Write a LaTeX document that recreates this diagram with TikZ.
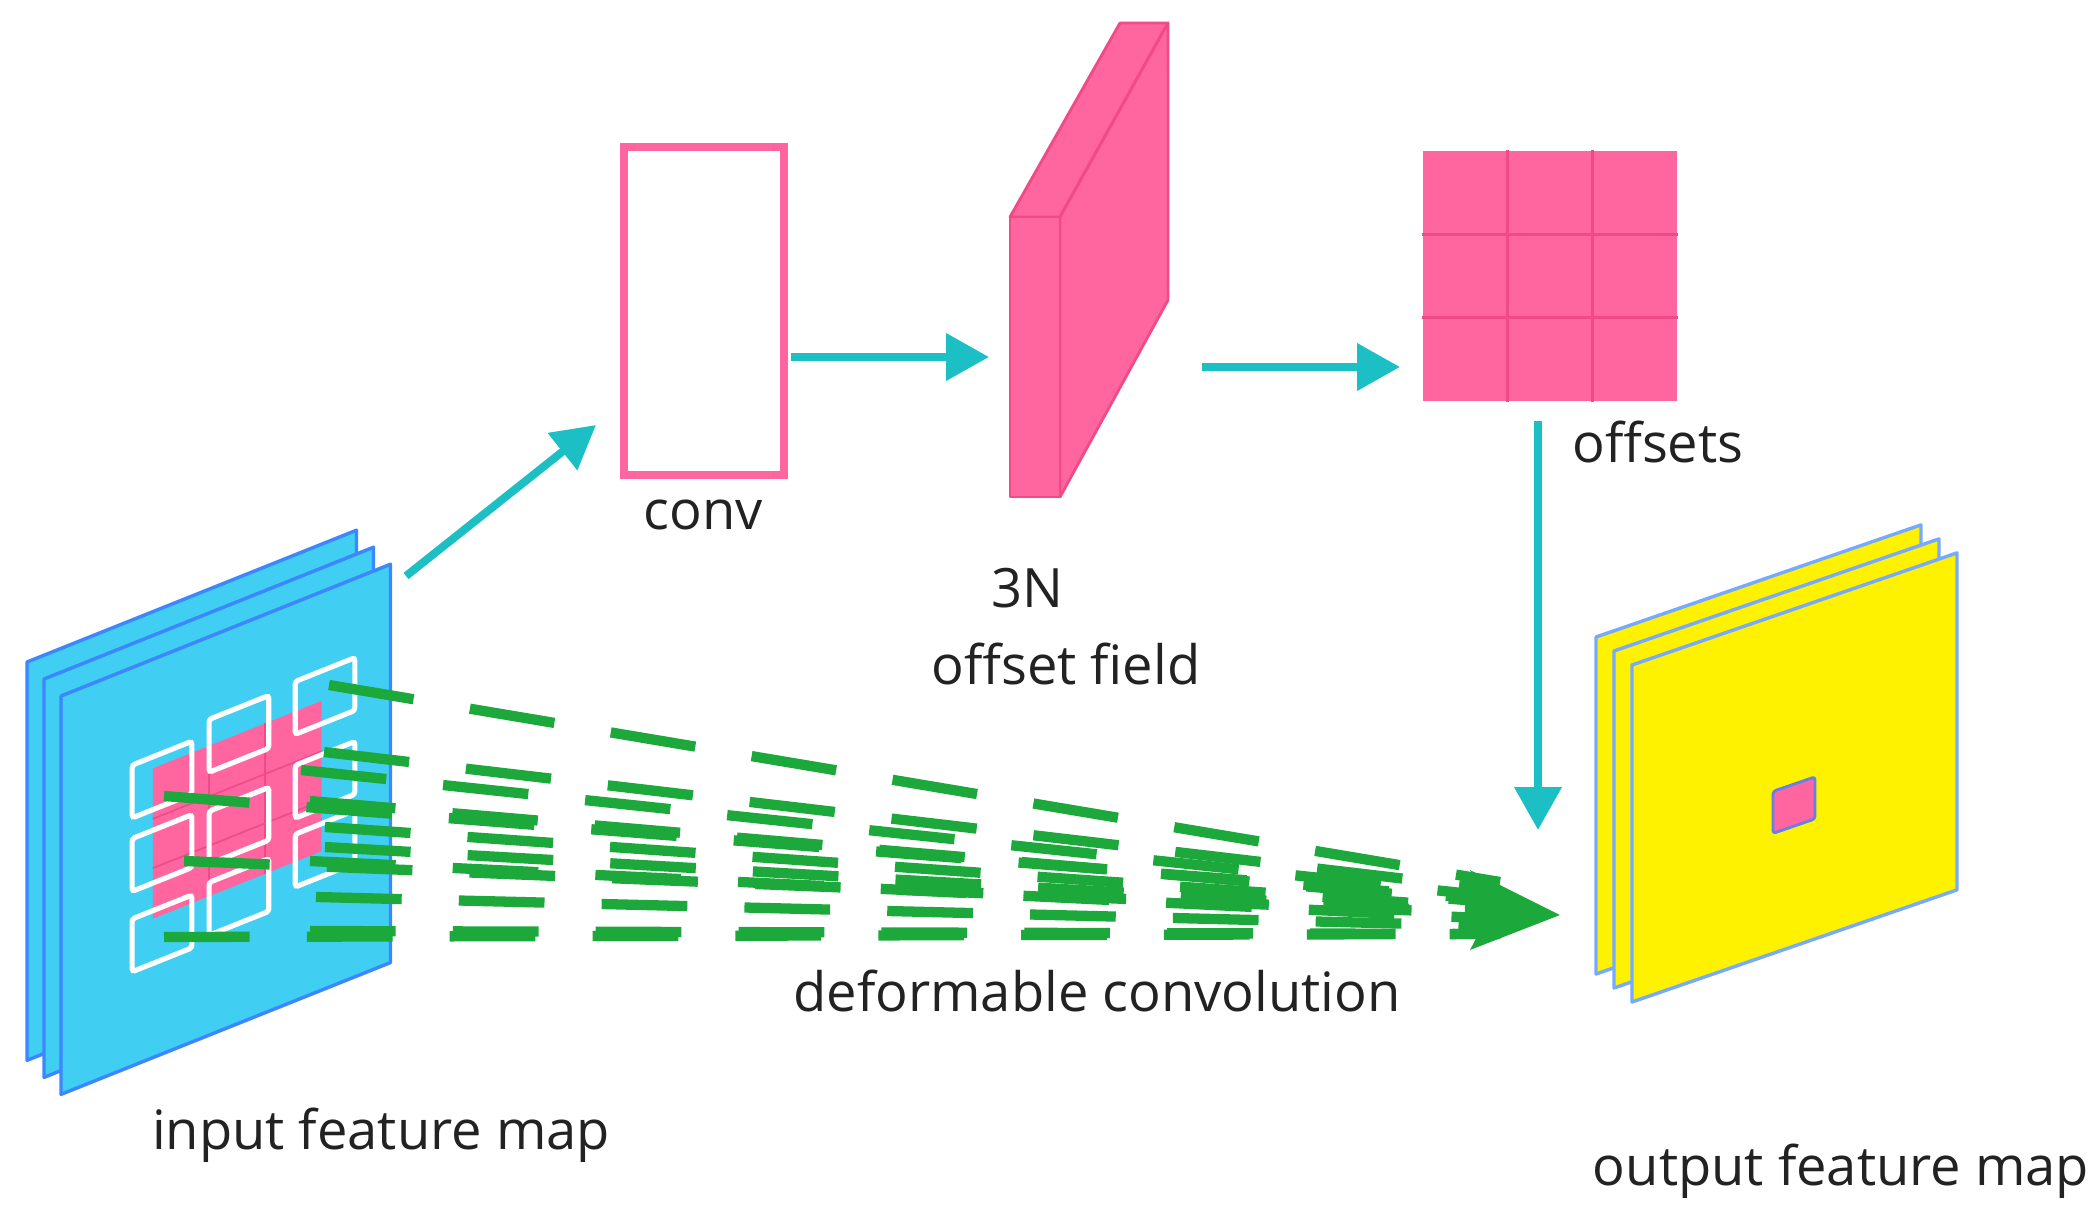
\documentclass[tikz,border=0pt]{standalone}
\usepackage{fontspec}
\setmainfont{Open Sans}
\usetikzlibrary{arrows.meta,calc}
\definecolor{pk}{HTML}{FF66A0}
\definecolor{pkd}{HTML}{F04A88}
\definecolor{cy}{HTML}{1CC0C4}
\definecolor{bl}{HTML}{40CFF2}
\definecolor{bld}{HTML}{3C86FF}
\definecolor{ye}{HTML}{FFF200}
\definecolor{gr}{HTML}{1DA83C}
\definecolor{tx}{HTML}{222222}
\begin{document}
\begin{tikzpicture}[x=0.35pt,y=-0.35pt,
  lbl/.style={text=tx,font=\fontsize{19}{21}\selectfont,inner sep=0pt},
  cyarrow/.style={cy,line width=2.8pt,-{Triangle[length=15pt,width=16pt]}},
  plane/.style={fill=bl,draw=bld,line width=1.2pt,line join=round},
  yplane/.style={fill=ye,draw=bld!70,line width=1.2pt,line join=round},
  ray/.style={gr,line width=3.6pt,dash pattern=on 30pt off 20pt}]
\useasboundingbox (0,0) rectangle (2100,1222);

% ---------- input feature map ----------
\foreach \s in {34,17,0}{
  \begin{scope}[shift={(61-\s,696-\s)},scale=1.148,yslant=0.4]
    \draw[plane] (0,0) rectangle (287,347);
  \end{scope}}
\begin{scope}[shift={(61,696)},scale=1.148,yslant=0.4]
  \fill[pk] (80,95) rectangle (227,226);
  \foreach \x in {129,178}{\draw[pkd,line width=0.6pt] (\x,95)--(\x,226);}
  \foreach \y in {139,182}{\draw[pkd,line width=0.6pt] (80,\y)--(227,\y);}
  \foreach \x/\y in {62/85,62/149,62/219,129/72,129/152,129/214,204/69,204/142,204/202}{
    \draw[white,line width=1.8pt,rounded corners=1pt] (\x,\y) rectangle ++(52,46);}
\end{scope}
\coordinate (inout) at (406,576);

% ---------- green rays ----------
\foreach \xa/\ya/\yb in {329/685/882,324/752/890,301/770/897,310/801/903,325/827/909,325/847/914,310/861/919,316/897/926,310/931/934,164/796/900,184/861/914,164/937/934}{
  \draw[ray] (\xa,\ya) -- (1500,\yb);}
\fill[gr] (1470,870) -- (1560,915) -- (1470,950) -- (1490,912) -- cycle;

% ---------- conv ----------
\node[draw=pk,line width=2.8pt,minimum width=56pt,minimum height=115pt,inner sep=0pt] (conv) at (704,311) {};
\node[lbl] (convl) at (703,515) {conv};

% ---------- offset field slab ----------
\draw[fill=pk,draw=pkd,line width=1pt,line join=round] (1010,217) -- (1060,217) -- (1168,23) -- (1120,23) -- cycle;
\draw[fill=pk,draw=pkd,line width=1pt,line join=round] (1060,217) -- (1168,23) -- (1168,300) -- (1060,497) -- cycle;
\draw[fill=pk,draw=pkd,line width=1pt,line join=round] (1010,217) rectangle (1060,497);
\coordinate (slabin) at (989,357);
\coordinate (slabout) at (1202,367);
\node[lbl] (n3) at (1027,588) {3N};
\node[lbl] (of) at (1066,664) {offset field};

% ---------- offsets grid ----------
\node[fill=pk,minimum width=89pt,minimum height=87.5pt,inner sep=0pt] (offs) at (1550,276) {};
\foreach \i in {1,2}{
  \draw[pkd,line width=1pt] ($(offs.north west)!{\i/3}!(offs.north east)$) -- ($(offs.south west)!{\i/3}!(offs.south east)$);
  \draw[pkd,line width=1pt] ($(offs.north west)!{\i/3}!(offs.south west)$) -- ($(offs.north east)!{\i/3}!(offs.south east)$);}
\node[lbl] (offl) at (1658,442) {offsets};

% ---------- output feature map ----------
\foreach \s in {2,1,0}{
  \begin{scope}[shift={(1632-18*\s,665-14*\s)},yslant=0.345]
    \draw[yplane] (0,0) rectangle (325,337);
  \end{scope}}
\begin{scope}[shift={(1632,665)},yslant=0.345]
  \draw[fill=pk,draw=bld!80!pk,line width=1pt,rounded corners=1pt] (141,175) rectangle ++(42,42);
\end{scope}
\coordinate (outin) at (1538,830);

% ---------- cyan arrows ----------
\coordinate (convin) at (596,425);
\coordinate (convout) at (791,357);
\coordinate (offsin) at (1400,367);
\coordinate (offsout) at (1538,421);
\draw[cyarrow] (inout) -- (convin);
\draw[cyarrow] (convout) -- (slabin);
\draw[cyarrow] (slabout) -- (offsin);
\draw[cyarrow] (offsout) -- (outin);

% ---------- labels ----------
\node[lbl] (dc) at (1097,991) {deformable convolution};
\node[lbl] (ifm) at (381,1135) {input feature map};
\node[lbl] (ofm) at (1841,1171) {output feature map};
\end{tikzpicture}
\end{document}
